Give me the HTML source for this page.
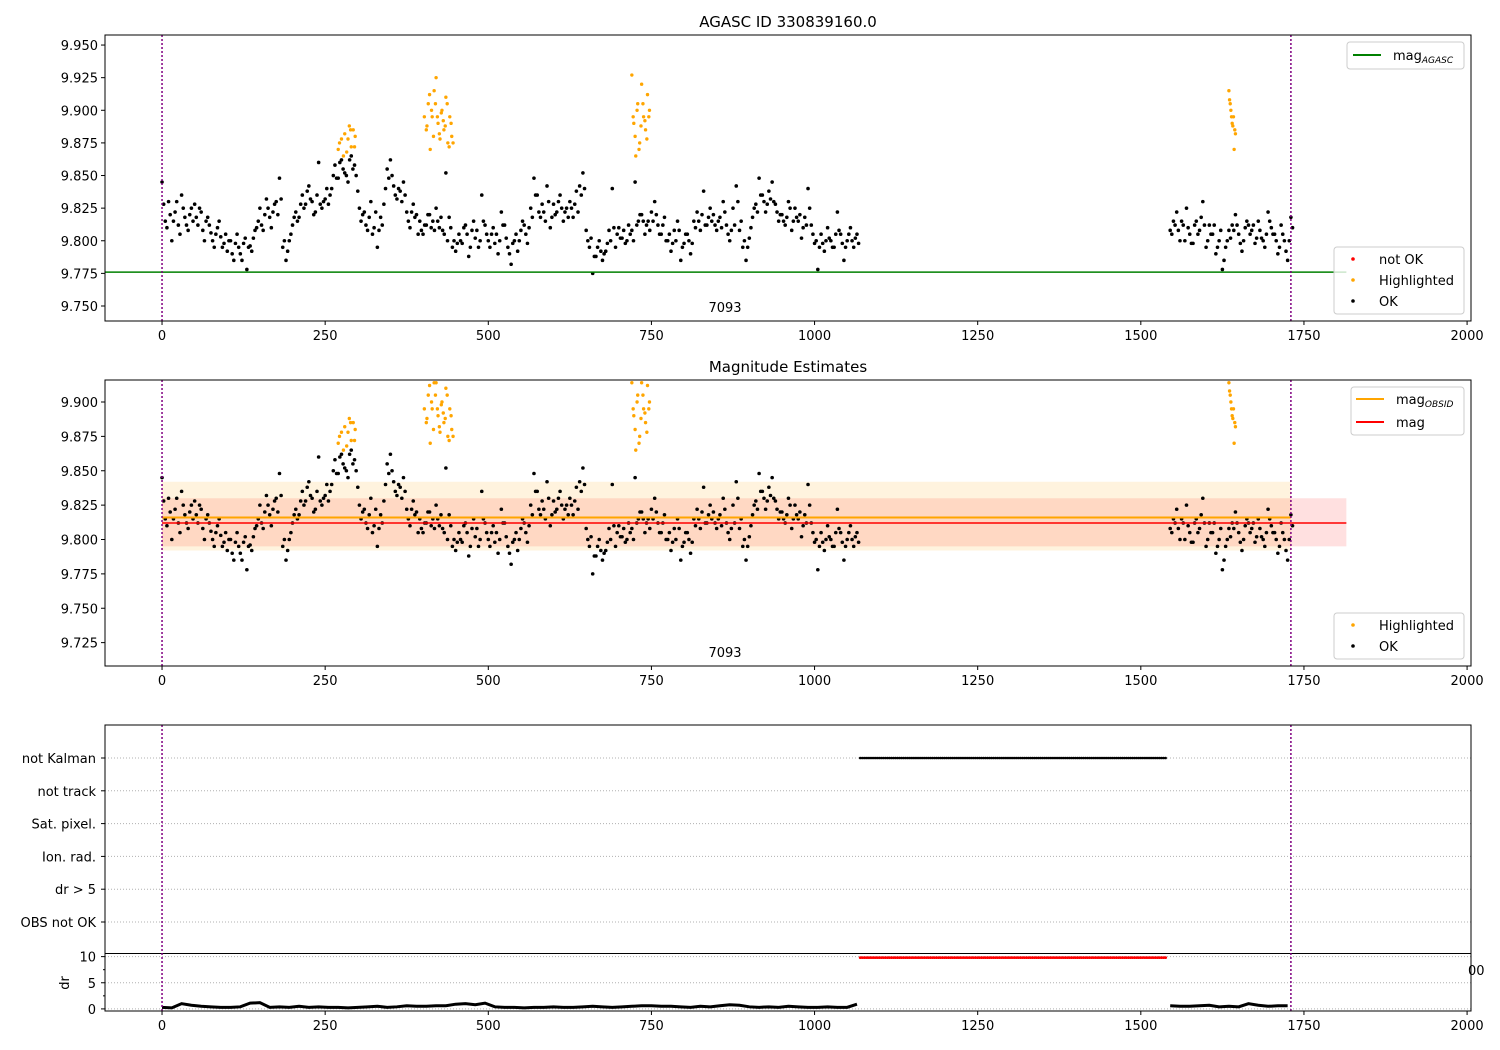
<!DOCTYPE html>
<html><head><meta charset="utf-8"><style>
html,body{margin:0;padding:0;background:#fff;}
svg{display:block;font-family:"DejaVu Sans","Liberation Sans",sans-serif;}
</style></head><body>
<svg id="chart" width="1500" height="1050" xmlns="http://www.w3.org/2000/svg"></svg>
<script>
// ---- data ----
const okSegStarts = [0, 1545];
const okSegStartsB = [2.5, 1547.5];
const okStep = 5;
const okMagSeg1 = [9.845,9.815,9.830,9.800,9.822,9.812,9.835,9.818,9.808,9.825,
9.828,9.812,9.822,9.800,9.818,9.806,9.795,9.810,9.803,9.798,
9.792,9.800,9.785,9.805,9.790,9.798,9.778,9.796,9.802,9.810,
9.825,9.808,9.832,9.818,9.822,9.830,9.848,9.795,9.785,9.800,
9.812,9.822,9.818,9.835,9.828,9.842,9.830,9.822,9.860,9.825,
9.832,9.828,9.840,9.858,9.848,9.862,9.852,9.845,9.865,9.858,
9.838,9.815,9.822,9.808,9.830,9.810,9.795,9.818,9.828,9.855,
9.862,9.842,9.832,9.838,9.845,9.822,9.810,9.828,9.820,9.815,
9.805,9.812,9.820,9.815,9.825,9.810,9.808,9.852,9.818,9.795,
9.792,9.805,9.798,9.812,9.788,9.808,9.802,9.795,9.835,9.812,
9.800,9.805,9.798,9.790,9.822,9.812,9.795,9.782,9.800,9.792,
9.808,9.812,9.798,9.825,9.848,9.835,9.818,9.822,9.842,9.810,
9.828,9.822,9.835,9.815,9.825,9.830,9.818,9.838,9.842,9.852,
9.808,9.795,9.775,9.788,9.800,9.785,9.792,9.808,9.840,9.795,
9.810,9.802,9.798,9.812,9.808,9.845,9.815,9.820,9.805,9.815,
9.822,9.830,9.812,9.805,9.818,9.800,9.792,9.808,9.815,9.785,
9.798,9.805,9.790,9.815,9.822,9.808,9.838,9.812,9.825,9.820,
9.808,9.818,9.830,9.812,9.800,9.825,9.842,9.808,9.795,9.785,
9.802,9.818,9.828,9.848,9.835,9.822,9.838,9.845,9.828,9.815,
9.820,9.812,9.830,9.808,9.825,9.815,9.802,9.818,9.840,9.812,
9.798,9.778,9.805,9.792,9.810,9.800,9.795,9.822,9.805,9.785,
9.800,9.810,9.795,9.805];
const okMagSeg1b = [9.828,9.810,9.820,9.815,9.830,9.805,9.825,9.812,9.820,9.815,
9.818,9.825,9.808,9.815,9.812,9.800,9.805,9.815,9.795,9.805,
9.800,9.790,9.798,9.795,9.785,9.802,9.795,9.792,9.808,9.815,
9.812,9.820,9.825,9.810,9.828,9.820,9.832,9.800,9.792,9.805,
9.818,9.815,9.828,9.825,9.838,9.832,9.820,9.835,9.828,9.830,
9.840,9.835,9.850,9.848,9.860,9.855,9.850,9.862,9.855,9.850,
9.825,9.820,9.812,9.818,9.805,9.822,9.808,9.812,9.840,9.848,
9.850,9.835,9.840,9.830,9.835,9.815,9.822,9.818,9.805,9.808,
9.812,9.820,9.810,9.808,9.815,9.818,9.805,9.800,9.810,9.800,
9.798,9.800,9.810,9.805,9.795,9.815,9.808,9.800,9.815,9.805,
9.795,9.810,9.805,9.800,9.812,9.802,9.790,9.798,9.805,9.800,
9.815,9.805,9.810,9.818,9.835,9.822,9.828,9.815,9.830,9.818,
9.820,9.830,9.825,9.822,9.818,9.825,9.828,9.822,9.835,9.840,
9.800,9.802,9.788,9.795,9.792,9.790,9.798,9.800,9.810,9.805,
9.802,9.808,9.800,9.805,9.800,9.812,9.820,9.815,9.812,9.808,
9.815,9.820,9.805,9.812,9.800,9.805,9.798,9.800,9.808,9.795,
9.805,9.800,9.798,9.810,9.815,9.820,9.812,9.818,9.815,9.812,
9.815,9.810,9.822,9.805,9.808,9.812,9.830,9.815,9.800,9.795,
9.810,9.825,9.822,9.835,9.830,9.828,9.832,9.830,9.822,9.820,
9.815,9.818,9.825,9.815,9.818,9.820,9.810,9.812,9.825,9.805,
9.800,9.795,9.798,9.800,9.802,9.795,9.805,9.808,9.798,9.795,
9.805,9.800,9.802,9.798];
const okMagSeg2 = [9.808,9.815,9.822,9.800,9.812,9.825,9.805,9.798,9.815,9.808,
9.830,9.795,9.812,9.805,9.790,9.800,9.778,9.795,9.808,9.812,
9.820,9.805,9.792,9.810,9.812,9.808,9.798,9.815,9.802,9.795,
9.822,9.810,9.805,9.790,9.812,9.800,9.785,9.818];
const okMagSeg2b = [9.805,9.812,9.808,9.815,9.800,9.810,9.798,9.812,9.805,9.818,
9.812,9.800,9.805,9.812,9.795,9.808,9.785,9.800,9.802,9.808,
9.812,9.798,9.800,9.815,9.805,9.812,9.802,9.808,9.800,9.805,
9.815,9.805,9.800,9.795,9.805,9.792,9.800,9.810];
const hlTime = [270,275,280,283,287,290,293,296,405,408,411,414,417,420,423,426,429,432,435,438,441,444,720,723,726,729,732,735,738,741,744,747,1635,1637,1639,1641,1643,1645];
const hlMag = [9.870,9.878,9.882,9.868,9.888,9.872,9.885,9.880,9.885,9.905,9.870,9.895,9.915,9.925,9.890,9.878,9.900,9.885,9.910,9.875,9.895,9.880,9.927,9.890,9.865,9.905,9.875,9.920,9.895,9.885,9.912,9.900,9.915,9.905,9.895,9.888,9.870,9.882];
const hlTimeB = [272,278,285,289,295,402,406,410,413,416,419,422,425,428,431,434,437,440,443,446,722,725,728,731,734,737,740,743,746,1636,1638,1640,1642,1644];
const hlMagB = [9.875,9.865,9.878,9.885,9.872,9.895,9.888,9.912,9.900,9.880,9.905,9.895,9.882,9.898,9.892,9.888,9.905,9.872,9.890,9.875,9.895,9.880,9.900,9.870,9.888,9.905,9.892,9.878,9.895,9.908,9.900,9.890,9.895,9.885];
const drSegStarts = [0, 1545];
const drStep = 15;
const drSeg1 = [0.3,0.2,1.0,0.7,0.5,0.4,0.3,0.3,0.4,1.1,1.2,0.3,0.4,0.3,0.5,0.3,0.4,0.3,0.3,0.2,0.3,0.4,0.5,0.3,0.4,0.6,0.5,0.5,0.6,0.6,0.9,1.0,0.8,1.1,0.4,0.3,0.3,0.2,0.3,0.3,0.4,0.3,0.3,0.4,0.5,0.4,0.3,0.4,0.5,0.6,0.6,0.5,0.5,0.4,0.3,0.5,0.4,0.6,0.8,0.7,0.4,0.3,0.4,0.3,0.5,0.4,0.3,0.3,0.4,0.3,0.3,0.9];
const drSeg2 = [0.6,0.5,0.5,0.6,0.7,0.4,0.5,0.4,1.0,0.7,0.5,0.6,0.6];
const gapRange = [1070, 1540];
const gapDr = 10;
const magAgasc = 9.776, magObsid = 9.816, magMean = 9.812;
const magBand = [9.795, 9.830], obsBand = [9.792, 9.842];
const obsLines = [0, 1730];
const xTicks = [0,250,500,750,1000,1250,1500,1750,2000];
const yTicksTop = [9.750,9.775,9.800,9.825,9.850,9.875,9.900,9.925,9.950];
const yTicksMid = [9.725,9.750,9.775,9.800,9.825,9.850,9.875,9.900];
const flagLabels = ["not Kalman","not track","Sat. pixel.","Ion. rad.","dr > 5","OBS not OK"];
const drTicks = [0,5,10];

// ---- scales ----
const NS = "http://www.w3.org/2000/svg";
const svg = document.getElementById('chart');
const AX_L = 105, AX_R = 1471;
const X0 = -87.4, X1 = 2006;
const sx = v => AX_L + (v - X0) / (X1 - X0) * (AX_R - AX_L);
const mkY = (top, bot, vmax, vmin) => v => top + (vmax - v) / (vmax - vmin) * (bot - top);
const yTop = mkY(35, 321, 9.9577, 9.7385);
const yMid = mkY(380, 666, 9.916, 9.708);
const yFlag = i => 758 + i * 32.8;
const yDr = mkY(954, 1011, 10.5, -0.4);

function el(tag, attrs, parent) {
  const e = document.createElementNS(NS, tag);
  for (const k in attrs) e.setAttribute(k, attrs[k]);
  (parent || svg).appendChild(e);
  return e;
}
function text(x, y, s, anchor, size, parent) {
  const t = el('text', {x, y, 'text-anchor': anchor || 'middle', 'font-size': size || 13, fill: '#000'}, parent);
  t.textContent = s;
  return t;
}
function okPoints(cb) {
  okMagSeg1.forEach((m, i) => cb(okSegStarts[0] + i * okStep, m));
  okMagSeg2.forEach((m, i) => cb(okSegStarts[1] + i * okStep, m));
  okMagSeg1b.forEach((m, i) => cb(okSegStartsB[0] + i * okStep, m));
  okMagSeg2b.forEach((m, i) => cb(okSegStartsB[1] + i * okStep, m));
}
function hlPoints(cb) {
  hlTime.forEach((t, i) => cb(t, hlMag[i]));
  hlTimeB.forEach((t, i) => cb(t, hlMagB[i]));
}
function xAxis(yb) {
  const g = el('g', {});
  
  
  xTicks.forEach(t => {
    el('line', {x1: sx(t), x2: sx(t), y1: yb, y2: yb + 4, stroke: '#000'}, g);
    text(sx(t), yb + 19, String(t), 'middle', 13, g);
  });
}
function frame(top, bot, name) {
  const r = el('rect', {x: AX_L, y: top, width: AX_R - AX_L, height: bot - top, fill: 'none', stroke: '#000', 'stroke-width': 1});
  
  
}
function vlines(top, bot) {
  obsLines.forEach(t => {
    const l = el('line', {x1: sx(t), x2: sx(t), y1: top, y2: bot, stroke: '#800080', 'stroke-width': 1.5, 'stroke-dasharray': '2,2'});
    
    
  });
}
function yAxis(ticks, ys, fmt) {
  ticks.forEach(t => {
    el('line', {x1: AX_L - 4, x2: AX_L, y1: ys(t), y2: ys(t), stroke: '#000'});
    text(AX_L - 7, ys(t) + 5, fmt(t), 'end', 13);
  });
}

// ===== Top panel =====
text(788, 27, 'AGASC ID 330839160.0', 'middle', 15);
let cp = el('clipPath', {id: 'c1'}); el('rect', {x: AX_L, y: 35, width: AX_R - AX_L, height: 286}, cp);
let gTop = el('g', {'clip-path': 'url(#c1)'});


okPoints((t, m) => {
  const c = el('circle', {cx: sx(t), cy: yTop(m), r: 1.8, fill: '#000'}, gTop);
  
  
});
hlPoints((t, m) => {
  const c = el('circle', {cx: sx(t), cy: yTop(m), r: 1.7, fill: 'orange'}, gTop);
  
  
});
let ag = el('line', {x1: AX_L, x2: sx(1815), y1: yTop(magAgasc), y2: yTop(magAgasc), stroke: 'green', 'stroke-width': 1.5}, gTop);


vlines(35, 321);
frame(35, 321, 'top-axes');
yAxis(yTicksTop, yTop, v => v.toFixed(3));
xAxis(321);
text(725, 312, '7093', 'middle', 13);

function legendBox(x, y, w, h, name) {
  const g = el('g', {});
  
  
  el('rect', {x, y, width: w, height: h, rx: 3, fill: 'rgba(255,255,255,0.8)', stroke: '#ccc'}, g);
  return g;
}
let lg = legendBox(1347, 42, 117, 27, 'legend-agasc');
el('line', {x1: 1353, x2: 1381, y1: 55, y2: 55, stroke: 'green', 'stroke-width': 2}, lg);
let t1 = text(1393, 60, 'mag', 'start', 13, lg);
let ts = el('tspan', {'font-size': 9, 'font-style': 'italic', dy: 3}, t1); ts.textContent = 'AGASC';

lg = legendBox(1334, 247, 130, 67, 'legend-status');
[['red', 'not OK', 259], ['orange', 'Highlighted', 280], ['#000', 'OK', 301]].forEach(([c, s, y]) => {
  el('circle', {cx: 1353, cy: y, r: 1.8, fill: c}, lg);
  text(1379, y + 5, s, 'start', 13, lg);
});

// ===== Middle panel =====
text(788, 372, 'Magnitude Estimates', 'middle', 15);
cp = el('clipPath', {id: 'c2'}); el('rect', {x: AX_L, y: 380, width: AX_R - AX_L, height: 286}, cp);
let gMid = el('g', {'clip-path': 'url(#c2)'});


let b1 = el('rect', {x: sx(obsLines[0]), y: yMid(magBand[1]), width: sx(1815) - sx(obsLines[0]), height: yMid(magBand[0]) - yMid(magBand[1]), fill: 'rgba(255,0,0,0.12)'}, gMid);


let b2 = el('rect', {x: sx(obsLines[0]), y: yMid(obsBand[1]), width: sx(obsLines[1]) - sx(obsLines[0]), height: yMid(obsBand[0]) - yMid(obsBand[1]), fill: 'rgba(255,165,0,0.13)'}, gMid);


okPoints((t, m) => {
  const c = el('circle', {cx: sx(t), cy: yMid(m), r: 1.8, fill: '#000'}, gMid);
  
  
});
hlPoints((t, m) => {
  const c = el('circle', {cx: sx(t), cy: yMid(Math.min(m, 9.914)), r: 1.7, fill: 'orange'}, gMid);
  
  
});
let lo = el('line', {x1: sx(obsLines[0]), x2: sx(obsLines[1]), y1: yMid(magObsid), y2: yMid(magObsid), stroke: 'orange', 'stroke-width': 2}, gMid);


let lr = el('line', {x1: sx(obsLines[0]), x2: sx(1815), y1: yMid(magMean), y2: yMid(magMean), stroke: 'red', 'stroke-width': 1.5}, gMid);


vlines(380, 666);
frame(380, 666, 'middle-axes');
yAxis(yTicksMid, yMid, v => v.toFixed(3));
xAxis(666);
text(725, 657, '7093', 'middle', 13);

lg = legendBox(1351, 387, 113, 48, 'legend-mag');
el('line', {x1: 1356, x2: 1384, y1: 399, y2: 399, stroke: 'orange', 'stroke-width': 2}, lg);
let t2 = text(1396, 404, 'mag', 'start', 13, lg);
ts = el('tspan', {'font-size': 9, 'font-style': 'italic', dy: 3}, t2); ts.textContent = 'OBSID';
el('line', {x1: 1356, x2: 1384, y1: 422, y2: 422, stroke: 'red', 'stroke-width': 2}, lg);
text(1396, 427, 'mag', 'start', 13, lg);

lg = legendBox(1334, 613, 130, 46, 'legend-status-mid');
[['orange', 'Highlighted', 625], ['#000', 'OK', 646]].forEach(([c, s, y]) => {
  el('circle', {cx: 1353, cy: y, r: 1.8, fill: c}, lg);
  text(1379, y + 5, s, 'start', 13, lg);
});

// ===== Bottom flags panel =====
flagLabels.forEach((s, i) => {
  const y = yFlag(i);
  el('line', {x1: AX_L, x2: AX_R, y1: y, y2: y, stroke: '#b0b0b0', 'stroke-dasharray': '1,2'});
  el('line', {x1: AX_L - 4, x2: AX_L, y1: y, y2: y, stroke: '#000'});
  text(AX_L - 9, y + 5, s, 'end', 13);
});
for (let t = gapRange[0]; t <= gapRange[1]; t += 3) {
  const c = el('circle', {cx: sx(t), cy: yFlag(0), r: 1.3, fill: '#000'});
  
  
}
// dr subpanel
drTicks.forEach(t => {
  el('line', {x1: AX_L, x2: AX_R, y1: yDr(t), y2: yDr(t), stroke: '#b0b0b0', 'stroke-dasharray': '1,2'});
  el('line', {x1: AX_L - 4, x2: AX_L, y1: yDr(t), y2: yDr(t), stroke: '#000'});
  text(AX_L - 9, yDr(t) + 5, String(t), 'end', 13);
});
[2.5, 7.5].forEach(t => el('line', {x1: AX_L - 2, x2: AX_L, y1: yDr(t), y2: yDr(t), stroke: '#000'}));
let dl = text(0, 0, 'dr', 'middle', 13);
dl.setAttribute('transform', 'translate(69,983) rotate(-90)');

[[drSegStarts[0], drSeg1], [drSegStarts[1], drSeg2]].forEach(([s0, arr]) => {
  const pts = arr.map((v, i) => sx(s0 + i * drStep) + ',' + yDr(v)).join(' ');
  const p = el('polyline', {points: pts, fill: 'none', stroke: '#000', 'stroke-width': 3});
  
  
});
for (let t = gapRange[0]; t <= gapRange[1]; t += 3) {
  const c = el('circle', {cx: sx(t), cy: yDr(gapDr) + 1, r: 1.4, fill: 'red'});
  
  
}
el('line', {x1: AX_L, x2: AX_R, y1: 953.5, y2: 953.5, stroke: '#000'});
vlines(725, 1011);
frame(725, 1011, 'bottom-axes');
xAxis(1011);
text(1468, 975, '00', 'start', 13);
</script>
</body></html>
